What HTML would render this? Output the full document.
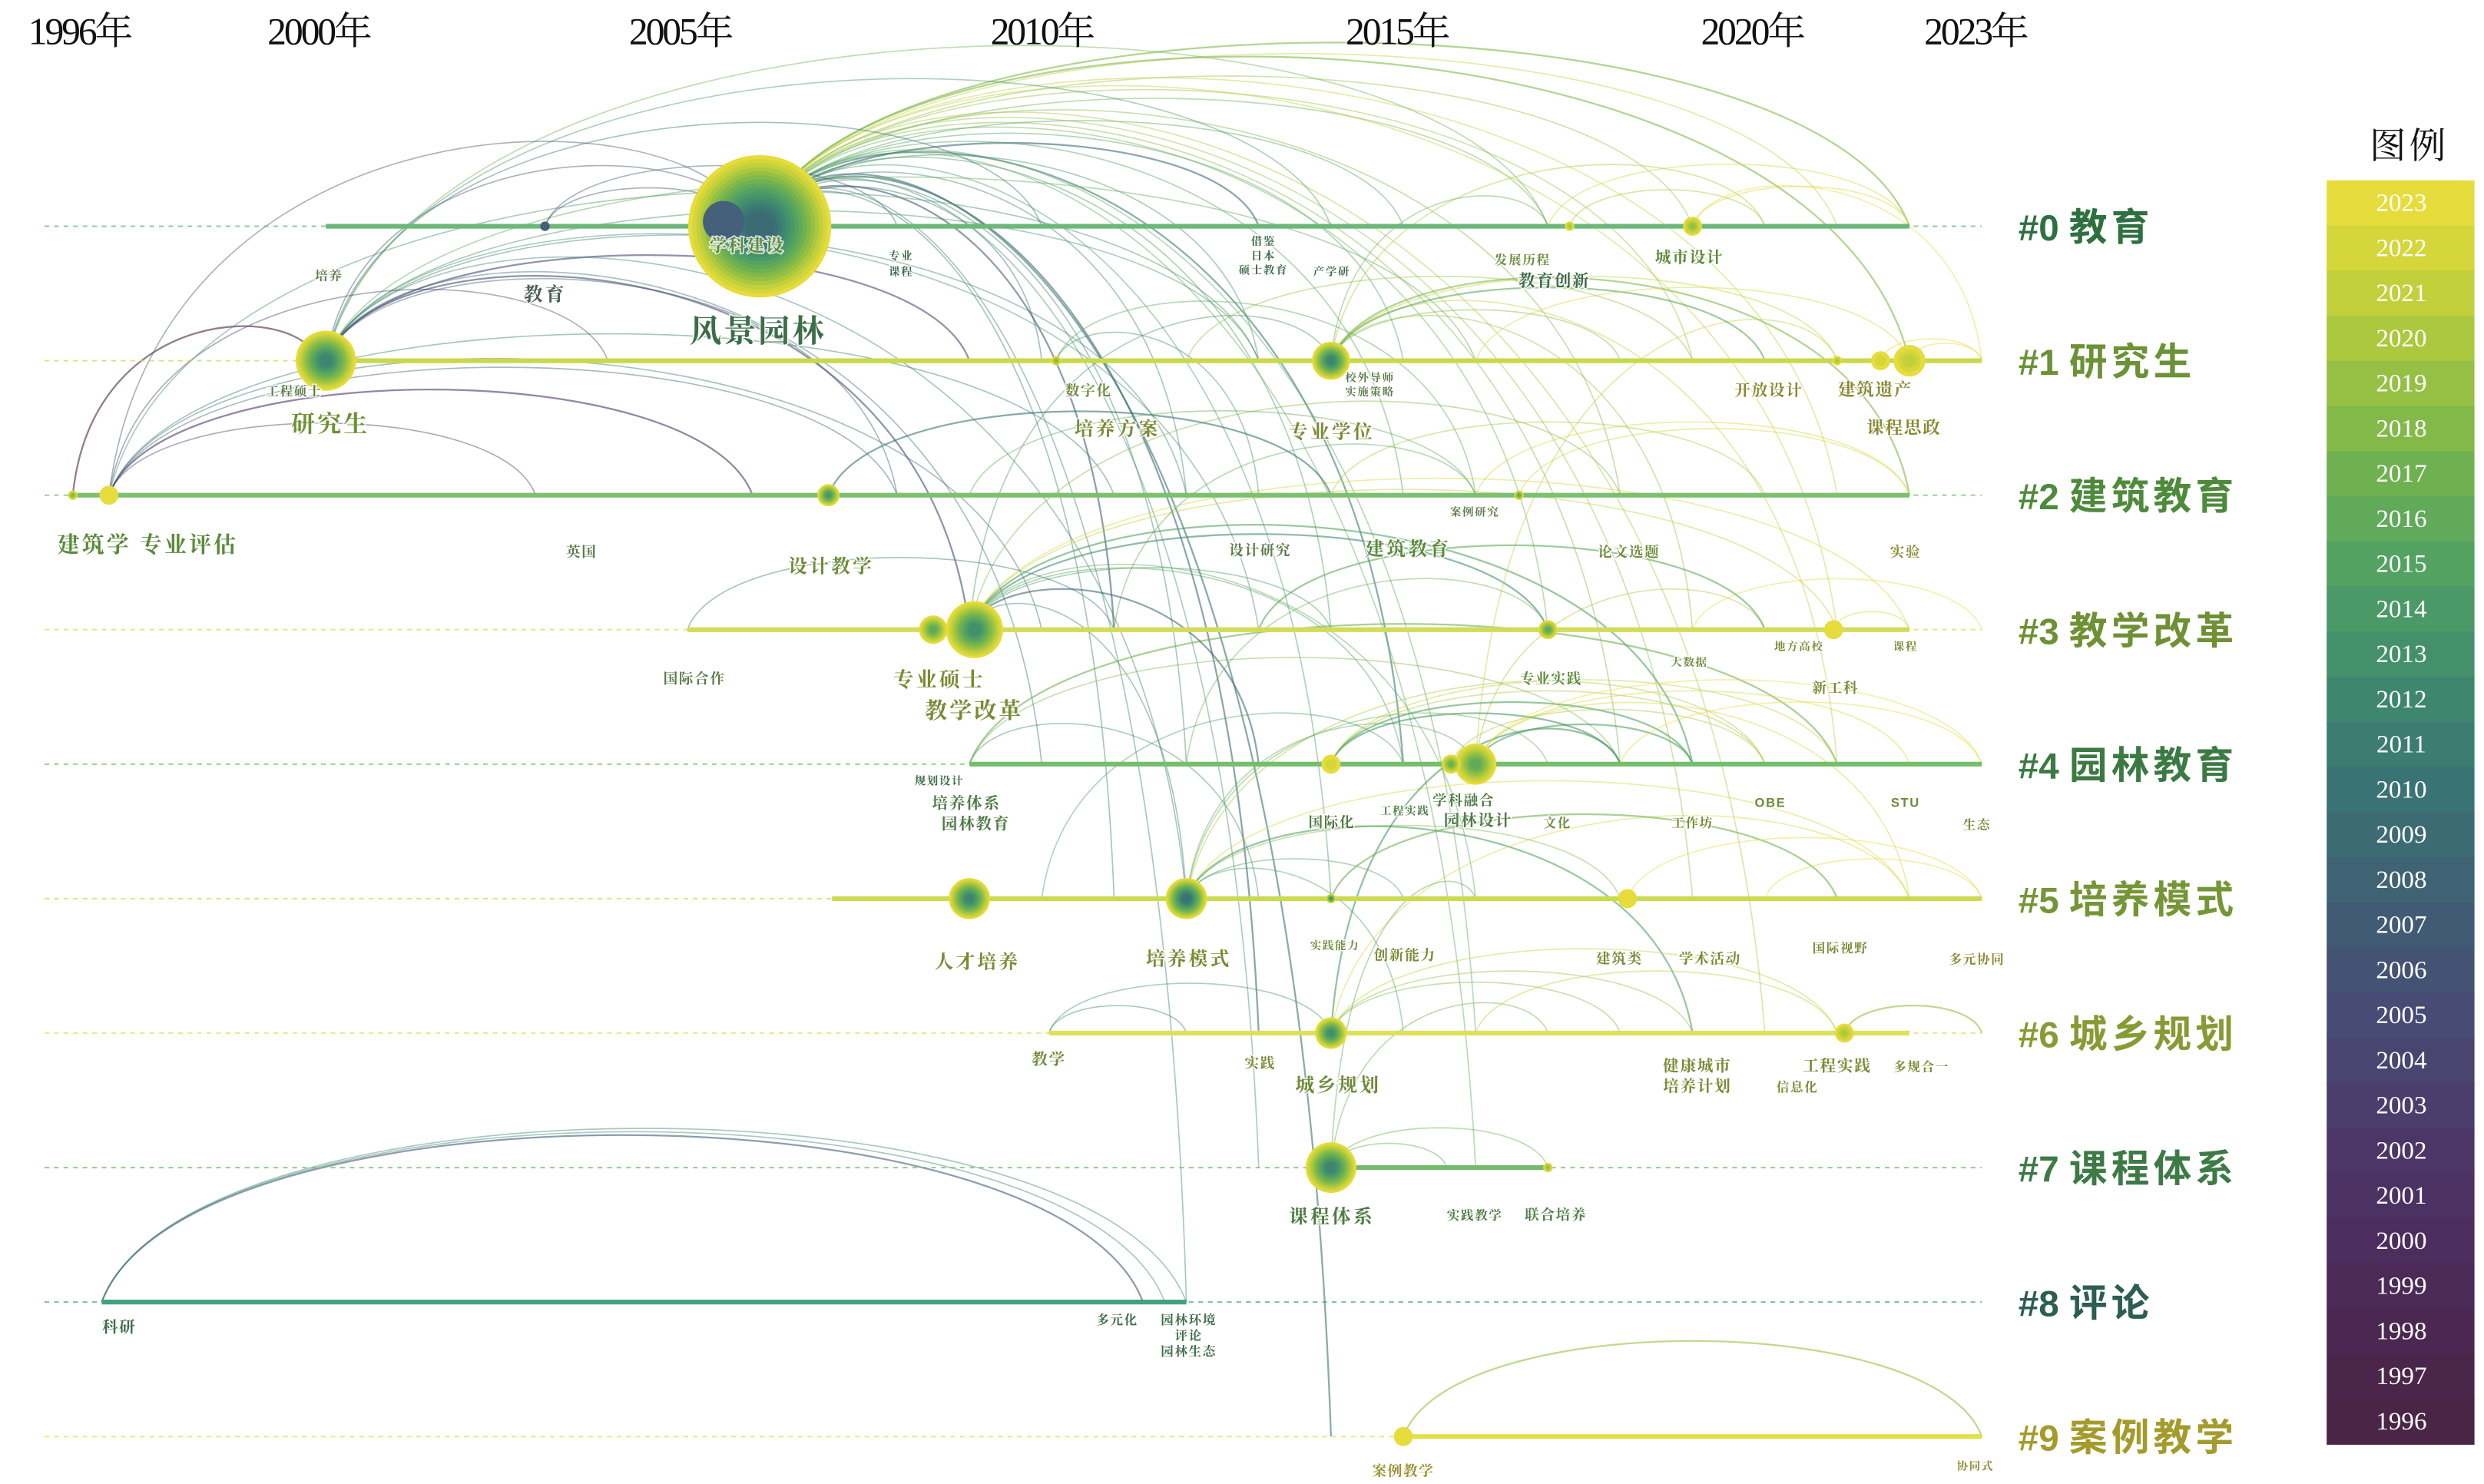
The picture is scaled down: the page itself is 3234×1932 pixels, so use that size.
<!DOCTYPE html>
<html><head><meta charset="utf-8"><title>关键词时间线图谱</title>
<style>
html,body{margin:0;padding:0;background:#fff;}
svg{display:block;}
text{font-family:"Liberation Serif","Noto Serif CJK SC","Noto Sans CJK SC",serif;}
.kw{font-family:"Liberation Sans","Noto Serif CJK SC","Noto Sans CJK SC",sans-serif;font-weight:bold;paint-order:stroke;stroke:#fff;stroke-width:1.6;stroke-opacity:.8;}
</style></head>
<body>
<svg id="chart" width="3234" height="1932" viewBox="0 0 1563 938" preserveAspectRatio="none" xmlns="http://www.w3.org/2000/svg">
<g id="arcs"></g>
<g id="rows"></g>
<g id="nodes"></g>
<g id="labels"></g>
<g id="axis"></g>
<g id="clusters"></g>
<g id="legend"></g>
</svg>
<script>
// ---- data ----
const axisYears = [2000, 2005, 2010, 2015, 2020, 2023];
const axisLabels = ["2000年", "2005年", "2010年", "2015年", "2020年", "2023年"];
const legendYears = [2023,2022,2021,2020,2019,2018,2017,2016,2015,2014,2013,2012,2011,2010,2009,2008,2007,2006,2005,2004,2003,2002,2001,2000,1999,1998,1997,1996];
const legendColors = ["#e6dc3c","#d4d63a","#c2d03c","#acc83f","#96c044","#82b949","#6fb151","#60aa5a","#53a261","#4a9967","#44906b","#3f866f","#3c7c71","#3a7373","#3d6b74","#3f6373","#425b74","#445374","#484b73","#4a4470","#4b3d6c","#4c3668","#4c3163","#4c2d5e","#4b2a57","#4b2851","#4a264b","#4a2545"];
const clusterNames = ["#0 教育","#1 研究生","#2 建筑教育","#3 教学改革","#4 园林教育","#5 培养模式","#6 城乡规划","#7 课程体系","#8 评论","#9 案例教学"];
const clusterColors = ["#2f7040","#6b9236","#4f8a3c","#6f9034","#3c7a44","#749636","#889a34","#3e7a46","#2c5e52","#a39c2c"];
const rowStart = [2000.1, 2000.1, 1996.6, 2005.1, 2009.0, 2007.1, 2010.1, 2014.0, 1997.0, 2015.0];
const rowEnd   = [2022.0, 2023.0, 2022.0, 2022.0, 2023.0, 2023.0, 2022.0, 2017.0, 2012.0, 2023.0];
const rowColor = ["#6bb87a","#c9d94a","#7cc070","#d2dc58","#74be6c","#cbdb50","#dfe05a","#72bb6c","#45a080","#e2df4a"];
// nodes: year, row, radius, innermost year
const nodeYear = [2006.1,2003.13,2000.1,2014.0,2019.0,2022.0,2021.6,2021.0,1996.6,1997.1,2007.05,2009.07,2008.5,2014.0,2016.0,2015.66,2017.0,2009.0,2012.0,2014.0,2018.1,2014.0,2014.0,2017.0,2021.1,2015.0,2016.6,2020.95,2010.2,2017.3,2005.6];
const nodeRow  = [0,0,1,1,0,1,1,1,2,2,2,3,3,4,4,4,3,5,5,5,5,6,7,7,6,9,2,3,1,0,0];
const nodeR    = [45,3,19,12,6,10,6,3,3,6,7,18,9,6,13,6,6,13,13,3,6,10,16,3,6,6,3,6,3,3,13];
const nodeInner= [2009,2023,2012,2012,2019,2021,2022,2020,2018,2023,2014,2013,2016,2022,2016,2017,2016,2012,2010,2013,2023,2013,2012,2019,2020,2023,2016,2023,2018,2020,2023];
// links: from year,row -> to year,row
const linkFromY = [2006.1,2006.1,2006.1,2006.1,2006.1,2006.1,2006.1,2006.1,2006.1,2006.1,2006.1,2006.1,2006.1,2006.1,2006.1,2006.1,2006.1,2006.1,2006.1,2006.1,2006.1,2006.1,2006.1,2006.1,2006.1,2006.1,2006.1,2006.1,2006.1,2006.1,2006.1,2006.1,
 2000.1,2000.1,2000.1,2000.1,2000.1,2000.1,2000.1,2000.1,2000.1,2000.1,2000.1,2000.1,2000.1,
 1996.6,1997.1,1997.1,1997.1,1997.1,1997.1,1997.1,1997.1,1997.1,
 1997.0,1997.0,1997.0,2003.13,2003.13,
 2009.0,2009.0,2009.0,2009.0,2009.0,2009.0,2009.0,2009.0,2009.0,2009.0,2005.1,2007.05,
 2012.0,2012.0,2012.0,2012.0,2012.0,2012.0,2012.0,2009.0,2009.0,2009.0,
 2014.0,2014.0,2014.0,2014.0,2014.0,2014.0,2014.0,2010.2,2010.2,
 2016.0,2016.0,2016.0,2016.0,2016.0,2014.0,2014.0,
 2014.0,2014.0,2014.0,2014.0,2014.0,2014.0,2014.0,2014.0,2015.0,2010.1,2010.1,
 2017.3,2019.0,2021.1,2020.95,2021.6,2022.0,2016.6,
 2014.0,2014.0,2015.66,2016.0,2012.0,2014.0,2018.1,2014.0,2016.0,2019.0,2013.0,2011.0,2014.0,2016.0,2009.0,2014.0,2016.0,2012.0,2017.0,2019.0,2009.0,2012.0,2010.0,2018.0,2020.0];
const linkFromR = [0,0,0,0,0,0,0,0,0,0,0,0,0,0,0,0,0,0,0,0,0,0,0,0,0,0,0,0,0,0,0,0,
 1,1,1,1,1,1,1,1,1,1,1,1,1,
 2,2,2,2,2,2,2,2,2,
 8,8,8,0,0,
 3,3,3,3,3,3,3,3,3,3,3,2,
 5,5,5,5,5,5,5,4,4,4,
 1,1,1,1,1,1,1,1,1,
 4,4,4,4,4,4,4,
 6,6,6,6,7,7,7,7,9,6,6,
 0,0,6,3,1,1,2,
 4,4,4,4,5,5,5,6,6,3,3,3,2,2,2,1,1,1,0,0,3,4,5,4,5];
const linkToY = [2013,2015,2017,2019,2021,2022,2010,2013,2015,2019,2022,2012,2015,2018,2021,2011,2014,2017,2021,2012,2015,2018,2011,2014,2019,2013,2016,2020,2013,2016,2014,2012,
 2006,2010,2014,2009,2013,2016,2008,2012,2009,2013,2010,2012,2017,
 2000,2006,2004,2008,2011,2006,2010,2013,2003,
 2012,2011.4,2011.7,2006,2008,
 2014,2017,2021,2014,2018,2015,2019,2022,2012,2016,2011,2014,
 2015,2018,2022,2015,2019,2020,2016,2013,2018,2021,
 2018,2021,2017,2020,2022,2019,2021,2016,2013,
 2019,2022,2020,2022,2021,2018,2020,
 2019,2021,2022,2018,2017,2017,2016,2015.6,2023,2012,2014,
 2020,2022,2023,2022,2023,2023,2022,
 2019,2021,2020,2023,2017,2021,2023,2018,2021,2023,2020,2016,2020,2022,2016,2020,2022,2019,2022,2023,2013,2017,2015,2023,2023];
const linkToR = [0,0,0,0,0,0,1,1,1,1,1,2,2,2,2,3,3,3,3,4,4,4,5,5,5,6,6,6,7,7,9,8,
 0,0,0,1,1,1,2,2,3,3,4,5,0,
 1,0,1,2,2,2,3,1,2,
 8,8,8,0,0,
 3,3,3,1,2,4,4,3,5,5,3,2,
 5,5,5,6,6,4,4,5,4,4,
 1,1,0,0,2,3,4,2,2,
 4,4,3,5,1,4,4,
 6,6,5,4,7,6,5,7,9,6,6,
 0,0,6,3,1,1,2,
 4,4,4,4,4,5,5,6,6,3,3,2,2,2,2,1,1,1,0,1,4,3,4,4,5];

// ---- scales ----
const rowY = r => 143 + r * 85;
const xOf = yr => 428 + (yr - 2005) * 45.5;
const colorOf = yr => { let i = Math.round(2023 - yr); i = Math.max(0, Math.min(27, i)); return legendColors[i]; };
const NS = "http://www.w3.org/2000/svg";
function mk(tag, attrs, parent) { const e = document.createElementNS(NS, tag); for (const k in attrs) e.setAttribute(k, attrs[k]); parent.appendChild(e); return e; }

// ---- arcs ----
const gA = document.getElementById('arcs');
for (let i = 0; i < linkFromY.length; i++) {
  let x1 = xOf(linkFromY[i]), y1 = rowY(linkFromR[i]), x2 = xOf(linkToY[i]), y2 = rowY(linkToR[i]);
  const dx = Math.abs(x2 - x1);
  const base = Math.min(y1, y2);
  const h = 0.155 * dx + 4;
  const c = base - h * 4 / 3;
  const d = `M${x1} ${y1} C${x1 + (x2 - x1) * 0.08} ${c} ${x2 - (x2 - x1) * 0.08} ${c} ${x2} ${y2}`;
  const strong = (i % 5 === 0);
  const p = mk('path', {d: d, fill: 'none', stroke: colorOf(Math.max(linkFromY[i], linkToY[i]) - (strong ? 4 : 0)), 'stroke-width': (strong ? 1.1 : 0.8), 'stroke-opacity': (strong ? 0.6 : 0.45)}, gA);
  
  
}

// ---- rows ----
const gR = document.getElementById('rows');
for (let r = 0; r < 10; r++) {
  const y = rowY(r);
  const dl = mk('line', {x1: 28, y1: y, x2: 1247, y2: y, stroke: rowColor[r], 'stroke-width': 1, 'stroke-dasharray': '3 3', 'stroke-opacity': 0.7}, gR);
  
  
  const sl = mk('line', {x1: xOf(rowStart[r]), y1: y, x2: xOf(rowEnd[r]), y2: y, stroke: rowColor[r], 'stroke-width': 3}, gR);
  
  
}

// ---- nodes ----
const gN = document.getElementById('nodes');
for (let i = 0; i < nodeYear.length; i++) {
  const cx = xOf(nodeYear[i]), cy = rowY(nodeRow[i]) - (i === 30 ? 3 : 0), R = nodeR[i];
  const g = mk('g', {}, gN);
  
  
  const n = Math.max(1, 2023 - nodeInner[i] + 1);
  for (let k = 0; k < n; k++) {
    const rr = R * (1 - k / n * 0.85);
    mk('circle', {cx: cx, cy: cy, r: rr, fill: colorOf(2023 - k)}, g);
  }
  if (i === 30 || i === 1) { g.firstChild.setAttribute('fill', '#44607a'); }
}

// ---- keyword labels ----
const kwText = ["风景园林","学科建设","研究生","工程硕士","教育","培养","专业","课程","借鉴","日本","硕士教育","产学研","发展历程","教育创新","城市设计","数字化","培养方案","专业学位","校外导师","实施策略","开放设计","建筑遗产","课程思政","建筑学 专业评估","英国","设计教学","设计研究","建筑教育","案例研究","论文选题","实验","国际合作","专业硕士","教学改革","专业实践","大数据","地方高校","课程","新工科","规划设计","培养体系","园林教育","国际化","工程实践","学科融合","园林设计","文化","工作坊","OBE","STU","生态","人才培养","培养模式","实践能力","创新能力","建筑类","学术活动","国际视野","多元协同","教学","实践","城乡规划","健康城市","培养计划","工程实践","信息化","多规合一","课程体系","实践教学","联合培养","科研","多元化","园林环境","评论","园林生态","案例教学","协同式"];
const kwX = [477,470,208,185,343,207,567,567,795,795,795,838,958,978,1063,685,703,838,862,862,1113,1180,1198,93,366,523,793,886,928,1025,1199,437,591,613,976,1063,1132,1199,1155,591,608,614,838,884,921,930,980,1065,1114,1199,1244,615,748,840,884,1019,1076,1158,1244,660,793,842,1068,1068,1156,1131,1209,838,928,979,75,703,748,748,748,883,1243];
const kwY = [216,159,273,250,190,177,164,174,155,164,173,174,167,181,166,250,275,277,241,250,250,250,274,349,352,362,351,351,326,352,352,432,434,454,432,421,411,411,438,496,511,524,523,515,509,522,523,523,510,510,524,612,610,600,607,609,609,602,609,673,675,690,677,690,677,690,677,773,771,771,842,837,837,847,857,933,929];
const kwSize = [20,11,15,8,12,8,7,7,7,7,7,7,8,10.5,10,9,12,12,7,7,10,11,11,14,9,12,9,12,7,9,9,9,13,14,9,7,7,7,9,7,10,10,9,7,9,10,8,8,8,8,8,12,12,7,9,9,9,8,8,10,9,12,10,10,10,8,8,12,8,9,10,8,8,8,8,9,7];
const kwColor = ["#3c6e48","#5f8a3e","#6d9235","#5a7a48","#485f56","#5a7a48","#3d6b4a","#3d6b4a","#3d6b4a","#3d6b4a","#3d6b4a","#3d6b4a","#6b8a3a","#3d6b4a","#5c8a3a","#6e8a3a","#7a8a34","#7a8a34","#5c7a48","#5c7a48","#8a8a34","#8a8a34","#8a8a34","#5a8a3a","#5c7a48","#6e8a3a","#5c7a48","#5a8a3a","#5c7a48","#6e8a3a","#8a8a34","#5c7a48","#7a8a34","#7a8a34","#5c8a3a","#6e8a3a","#7a8a34","#7a8a34","#7a8a34","#3d6b4a","#4e7a44","#4e7a44","#4e7a44","#4e7a44","#4e7a44","#4e7a44","#6e8a3a","#7a8a34","#6e8a3a","#6e8a3a","#7a8a34","#7a8a34","#7a8a34","#6e8a3a","#7a8a34","#7a8a34","#7a8a34","#7a8a34","#8a8a34","#6e8a3a","#7a8a34","#6e8a3a","#7a8a34","#7a8a34","#7a8a34","#7a8a34","#7a8a34","#4e7a44","#4e7a44","#4e7a44","#3d6b4a","#3d6b4a","#3d6b4a","#3d6b4a","#3d6b4a","#9a9030","#8a8a34"];
const gL = document.getElementById('labels');
for (let i = 0; i < kwText.length; i++) {
  const t = mk('text', {x: kwX[i], y: kwY[i], 'font-size': kwSize[i], fill: kwColor[i], 'text-anchor': 'middle', class: 'kw', 'letter-spacing': kwSize[i] > 11 ? 1.5 : 0.8}, gL);
  t.textContent = kwText[i];
  
  
}

// ---- axis ----
const gX = document.getElementById('axis');
const t0 = mk('text', {x: 50, y: 28, 'font-size': 24, fill: '#111', 'text-anchor': 'middle', 'letter-spacing': -1.5}, gX);
t0.textContent = '1996年';


for (let i = 0; i < axisYears.length; i++) {
  const t = mk('text', {x: xOf(axisYears[i]) + (axisYears[i] === 2023 ? -4 : 0) - (axisYears[i] === 2020 ? 8 : 0) - (axisYears[i] === 2015 ? 4 : 0), y: 28, 'font-size': 24, fill: '#111', 'text-anchor': 'middle', 'letter-spacing': -1.5}, gX);
  t.textContent = axisLabels[i];
  
  
}

// ---- cluster labels ----
const gC = document.getElementById('clusters');
for (let r = 0; r < 10; r++) {
  const parts = clusterNames[r].split(' ');
  const t = mk('text', {x: 1270, y: rowY(r) + 9, 'font-size': 24, fill: clusterColors[r]}, gC);
  const a = mk('tspan', {'font-family': '"Liberation Sans",sans-serif', 'font-weight': 'bold', 'font-size': 23}, t);
  a.textContent = parts[0] + ' ';
  const b = mk('tspan', {'font-family': '"Noto Sans CJK SC",sans-serif', 'font-weight': 'bold', 'letter-spacing': 2.5}, t);
  b.textContent = parts[1];
  
  
}

// ---- legend ----
const gG = document.getElementById('legend');
const lt = mk('text', {x: 1516, y: 100, 'font-size': 23, fill: '#111', 'text-anchor': 'middle', 'font-family': '"Noto Sans CJK SC",sans-serif', 'letter-spacing': 2}, gG);
lt.textContent = '图例';


const cellH = (912.6 - 114) / legendYears.length;
for (let i = 0; i < legendYears.length; i++) {
  const rc = mk('rect', {x: 1464, y: 114 + i * cellH, width: 93, height: cellH + 0.6, fill: legendColors[i]}, gG);
  
  
  const tx = mk('text', {x: 1511, y: 114 + i * cellH + cellH * 0.68, 'font-size': 16, fill: '#fff', 'text-anchor': 'middle'}, gG);
  tx.textContent = legendYears[i];
  
  
}
</script>
</body></html>
